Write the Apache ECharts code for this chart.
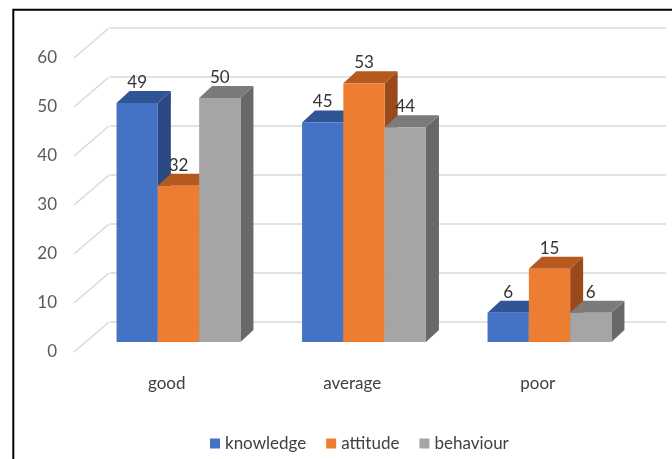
<!DOCTYPE html>
<html>
<head>
<meta charset="utf-8">
<script src="https://cdn.jsdelivr.net/npm/echarts@6/dist/echarts.min.js"></script>
<style>
html, body { margin: 0; padding: 0; background: #fff; }
#chart { width: 672px; height: 459px; }
</style>
</head>
<body>
<div id="chart"></div>
<script>
var categories = ['good', 'average', 'poor'];
var knowledge = [49, 45, 6];
var attitude = [32, 53, 15];
var behaviour = [50, 44, 6];
var yTicks = [0, 10, 20, 30, 40, 50, 60];

var seriesNames = ['knowledge', 'attitude', 'behaviour'];
var seriesData = [knowledge, attitude, behaviour];
// front, top, side
var faceColors = [
    ['#4472C4', '#2F5597', '#2B4A84'],
    ['#ED7D31', '#B5591F', '#9A4A19'],
    ['#A5A5A5', '#7B7B7B', '#686868']
];
var FONT = 'Lato';
var DX = 13, DY = -12;   // depth of a bar
var WX = 35, WY = -30;   // depth of the wall
var GRID_COLOR = '#D9D9D9';

var chart = echarts.init(document.getElementById('chart'));

function barRenderer(s) {
    return function (params, api) {
        var i = api.value(0), v = api.value(1);
        var p0 = api.coord([i, 0]), p1 = api.coord([i, v]);
        var bw = api.size([1, 0])[0] * 0.2226;
        var x0 = p0[0] - 1.5 * bw + s * bw, x1 = x0 + bw;
        var yb = p0[1], yt = p1[1];
        var c = faceColors[s];
        return {
            type: 'group',
            children: [
                { type: 'polygon', shape: { points: [[x1, yt], [x1 + DX, yt + DY], [x1 + DX, yb + DY], [x1, yb]] }, style: { fill: c[2] } },
                { type: 'polygon', shape: { points: [[x0, yt], [x1, yt], [x1 + DX, yt + DY], [x0 + DX, yt + DY]] }, style: { fill: c[1] } },
                { type: 'rect', shape: { x: x0, y: yt, width: bw, height: yb - yt }, style: { fill: c[0] } },
                { type: 'text', style: { text: String(v), x: (x0 + x1) / 2, y: yt + DY, align: 'center', verticalAlign: 'bottom', fontFamily: FONT, fontSize: 17, fill: '#333' } }
            ]
        };
    };
}

var series = [
    {
        type: 'custom',
        name: 'wall',
        xAxisIndex: 1,
        yAxisIndex: 1,
        silent: true,
        data: yTicks.map(function (t) { return [0, t]; }),
        renderItem: function (params, api) {
            var y = api.coord([0, api.value(1)])[1];
            var x = params.coordSys.x;
            return { type: 'line', shape: { x1: x, y1: y, x2: x + WX, y2: y + WY }, style: { stroke: GRID_COLOR, lineWidth: 1.5 } };
        }
    }
];
seriesNames.forEach(function (name, s) {
    series.push({
        type: 'custom',
        name: name,
        xAxisIndex: 2,
        yAxisIndex: 2,
        itemStyle: { color: faceColors[s][0] },
        data: seriesData[s].map(function (v, i) { return [i, v]; }),
        renderItem: barRenderer(s)
    });
});

var option = {
    animation: false,
    backgroundColor: '#fff',
    graphic: [
        { type: 'rect', shape: { x: 13.3, y: 9.8, width: 700, height: 500 }, style: { fill: 'none', stroke: '#000', lineWidth: 2 }, z: 100 }
    ],
    legend: {
        data: seriesNames,
        left: 205,
        top: 430,
        icon: 'rect',
        itemWidth: 10,
        itemHeight: 10,
        itemGap: 20,
        textStyle: { fontFamily: FONT, fontSize: 17, color: '#404040' }
    },
    grid: [
        { left: 110, right: 6, top: 28, bottom: 137 },     // back wall
        { left: 74, right: 41.5, top: 58, bottom: 107 },   // front edge of wall / floor
        { left: 85.75, right: 29.75, top: 49.2, bottom: 117 } // front faces of bars
    ],
    xAxis: [
        { gridIndex: 0, type: 'category', data: categories, show: false },
        {
            gridIndex: 1, type: 'category', data: categories,
            axisLine: { show: false }, axisTick: { show: false },
            axisLabel: { margin: 23, fontFamily: FONT, fontSize: 17, color: '#404040' }
        },
        { gridIndex: 2, type: 'category', data: categories, show: false }
    ],
    yAxis: [
        {
            gridIndex: 0, type: 'value', min: 0, max: 60, interval: 10,
            axisLine: { show: false }, axisTick: { show: false }, axisLabel: { show: false },
            splitLine: { lineStyle: { color: GRID_COLOR, width: 1.5 } }
        },
        {
            gridIndex: 1, type: 'value', min: 0, max: 60, interval: 10,
            axisLine: { show: false }, axisTick: { show: false }, splitLine: { show: false },
            axisLabel: { margin: 17, fontFamily: FONT, fontSize: 17, color: '#595959' }
        },
        { gridIndex: 2, type: 'value', min: 0, max: 60, interval: 10, show: false, splitLine: { show: false } }
    ],
    series: series
};
chart.setOption(option);
window.onresize = chart.resize;
</script>
</body>
</html>
